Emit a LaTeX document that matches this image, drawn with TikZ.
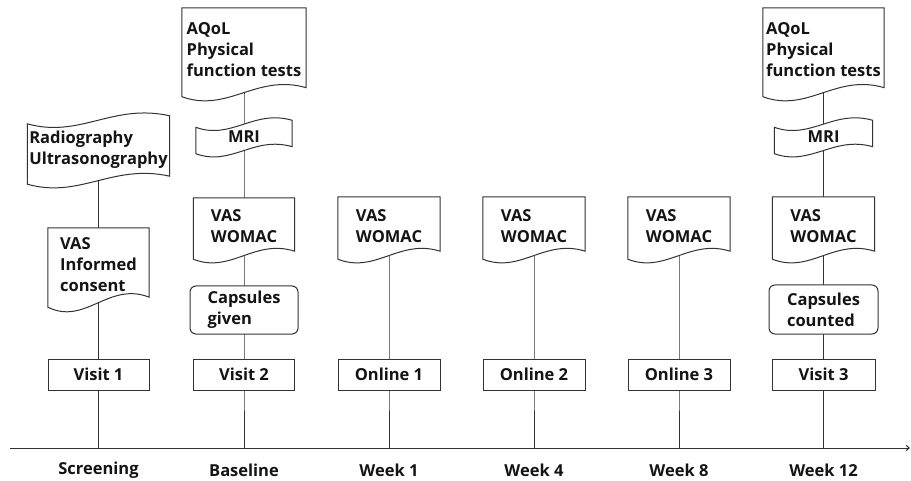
\documentclass[tikz,border=0pt]{standalone}
\usepackage{fontspec}
\setmainfont{Open Sans}
\usetikzlibrary{calc,arrows.meta}
\pgfdeclarelayer{background}
\pgfdeclarelayer{shapes}
\pgfsetlayers{background,shapes,main}
\tikzset{
  txt/.style={inner sep=0pt, align=left, font=\fontsize{16.5}{21}\selectfont\bfseries, text=black!92},
  outline/.style={draw=black!80, line width=1pt, fill=white},
  conn/.style={draw=black!80, line width=1pt},
  rectbox/.style={txt, outline},
  roundbox/.style={txt, outline, rounded corners=6pt},
  lbl/.style={inner sep=0pt, font=\fontsize{16.5}{21}\selectfont\bfseries, text=black!92},
}
\newcommand\docshape[2]{%
  \draw[outline] let \p1=(#1.south west), \p2=(#1.south east), \n1={\x2-\x1} in
    (#1.north west) -- (#1.north east) -- ([yshift=#2pt]#1.south east)
    .. controls +(-0.4*\n1, 3.2*#2pt) and +(0.37*\n1, -3.7*#2pt) .. ([yshift=-#2pt]#1.south west) -- cycle;}
\newcommand\tapeshape[2]{%
  \draw[outline] let \p1=(#1.south west), \p2=(#1.south east), \n1={\x2-\x1} in
    ([yshift=-#2pt]#1.north west) .. controls +(0.37*\n1, -3.7*#2pt) and +(-0.4*\n1, 3.2*#2pt) .. ([yshift=#2pt]#1.north east)
    -- ([yshift=#2pt]#1.south east)
    .. controls +(-0.4*\n1, 3.2*#2pt) and +(0.37*\n1, -3.7*#2pt) .. ([yshift=-#2pt]#1.south west) -- cycle;}
\begin{document}
\begin{tikzpicture}[x=1pt, y=-1pt]
\path[use as bounding box] (0,0) rectangle (911,481);
% Screening column
\node[txt, minimum width=142pt, minimum height=60pt] (radio) at (98.5,150) {Radiography\\Ultrasonography};
\node[txt, minimum width=101pt, minimum height=74pt] (vasic) at (98.5,265) {VAS\\Informed\\consent};
\node[rectbox, minimum width=101pt, minimum height=31pt] (visit1) at (98.5,374.5) {Visit 1};
% Baseline column
\node[txt, minimum width=124pt, minimum height=84pt] (aqol1) at (244,50) {AQoL\\Physical\\function tests};
\node[txt, minimum width=96pt, minimum height=26pt] (mri1) at (244,137) {MRI};
\node[txt, minimum width=101pt, minimum height=57pt] (vas2) at (244,226.5) {VAS\\WOMAC};
\node[roundbox, minimum width=108pt, minimum height=48pt] (caps1) at (244,310) {Capsules\\given};
\node[rectbox, minimum width=101pt, minimum height=31pt] (visit2) at (244,374.5) {Visit 2};
% Week 1
\node[txt, minimum width=102pt, minimum height=58pt] (vas3) at (389,226) {VAS\\WOMAC};
\node[rectbox, minimum width=102pt, minimum height=31pt] (online1) at (389,374.5) {Online 1};
% Week 4
\node[txt, minimum width=102pt, minimum height=58pt] (vas4) at (534,226) {VAS\\WOMAC};
\node[rectbox, minimum width=102pt, minimum height=31pt] (online2) at (534,374.5) {Online 2};
% Week 8
\node[txt, minimum width=102pt, minimum height=58pt] (vas5) at (679,226) {VAS\\WOMAC};
\node[rectbox, minimum width=102pt, minimum height=31pt] (online3) at (679,374.5) {Online 3};
% Week 12
\node[txt, minimum width=121pt, minimum height=84pt] (aqol2) at (823.5,50) {AQoL\\Physical\\function tests};
\node[txt, minimum width=98pt, minimum height=26pt] (mri2) at (823.5,137) {MRI};
\node[txt, minimum width=102pt, minimum height=58pt] (vas6) at (823.5,226) {VAS\\WOMAC};
\node[roundbox, minimum width=109pt, minimum height=49pt] (caps2) at (823.5,309.5) {Capsules\\counted};
\node[rectbox, minimum width=103pt, minimum height=31pt] (visit3) at (823.5,374.5) {Visit 3};
% axis
\coordinate (ax0) at (10,448);
\coordinate (ax1) at (910,448);
\coordinate (t1) at (98.5,448);
\coordinate (t2) at (244,448);
\coordinate (t3) at (389,448);
\coordinate (t4) at (534,448);
\coordinate (t5) at (679,448);
\coordinate (t6) at (823.5,448);
\node[lbl] (l1) at (98.5,470) {Screening};
\node[lbl] (l2) at (244,470) {Baseline};
\node[lbl] (l3) at (389,470) {Week 1};
\node[lbl] (l4) at (534,470) {Week 4};
\node[lbl] (l5) at (679,470) {Week 8};
\node[lbl] (l6) at (823.5,470) {Week 12};
\begin{pgfonlayer}{shapes}
\tapeshape{radio}{4}
\docshape{vasic}{5}
\docshape{aqol1}{4.5}
\tapeshape{mri1}{3.5}
\docshape{vas2}{4}
\docshape{vas3}{4}
\docshape{vas4}{4}
\docshape{vas5}{4}
\docshape{aqol2}{4.5}
\tapeshape{mri2}{3.5}
\docshape{vas6}{4}
\end{pgfonlayer}
\begin{pgfonlayer}{background}
\fill[white] (0,0) rectangle (911,481);
\draw[conn, -{Straight Barb[length=3pt,width=5pt]}] (ax0) -- (ax1);
\draw[conn] (radio.center) -- (vasic.center) -- (visit1.center) -- (t1);
\draw[conn] (aqol1.center) -- (mri1.center) -- (vas2.center) -- (caps1.center) -- (visit2.center) -- (t2);
\draw[conn] (vas3.center) -- (online1.center) -- (t3);
\draw[conn] (vas4.center) -- (online2.center) -- (t4);
\draw[conn] (vas5.center) -- (online3.center) -- (t5);
\draw[conn] (aqol2.center) -- (mri2.center) -- (vas6.center) -- (caps2.center) -- (visit3.center) -- (t6);
\end{pgfonlayer}
\end{tikzpicture}
\end{document}
